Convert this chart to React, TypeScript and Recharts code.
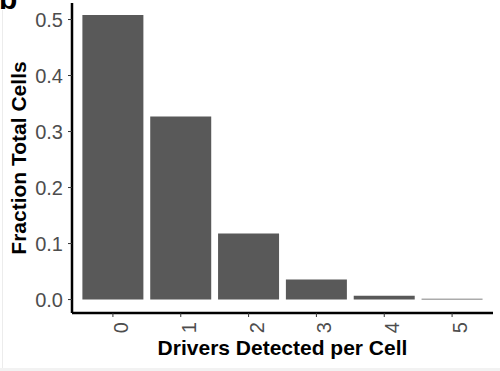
import { Bar, BarChart, Label, XAxis, YAxis } from "recharts";

const drivers = ["0", "1", "2", "3", "4", "5"];
const fractions = [0.508, 0.327, 0.118, 0.036, 0.007, 0.0015];
const yTicks = [0, 0.1, 0.2, 0.3, 0.4, 0.5];

const data = drivers.map((d, i) => ({ drivers: d, fraction: fractions[i] }));

const FONT = '"Liberation Sans", Arial, Helvetica, sans-serif';
const TICK_COLOR = "#4D4D4D";

// rotated label sits to the right of its tick, like ggplot angle=90 / vjust=1
function XTick({ x, y, payload }: { x: number; y: number; payload: { value: string } }) {
  return (
    <g transform={`translate(${x},${y + 3}) rotate(-90)`}>
      <text x={0} y={15} textAnchor="end" fill={TICK_COLOR} fontSize={20} fontFamily={FONT}>
        {payload.value}
      </text>
    </g>
  );
}

// y title, plus the panel tag "b" cut off at the top-left corner
function YTitle({ viewBox }: { viewBox?: { x: number; y: number; width: number; height: number } }) {
  if (!viewBox) return null;
  const cx = 18;
  const cy = viewBox.y + viewBox.height / 2;
  return (
    <g>
      <text x={-1} y={9} fontSize={30} fontWeight="bold" fontFamily={FONT} fill="#000">
        b
      </text>
      <text
        x={cx}
        y={cy}
        transform={`rotate(-90, ${cx}, ${cy})`}
        textAnchor="middle"
        dominantBaseline="central"
        fontSize={21}
        fontWeight="bold"
        fontFamily={FONT}
        fill="#000"
      >
        Fraction Total Cells
      </text>
    </g>
  );
}

function XTitle({ viewBox }: { viewBox?: { x: number; y: number; width: number; height: number } }) {
  if (!viewBox) return null;
  return (
    <text
      x={viewBox.x + viewBox.width / 2}
      y={355}
      textAnchor="middle"
      fontSize={21}
      fontWeight="bold"
      fontFamily={FONT}
      fill="#000"
    >
      Drivers Detected per Cell
    </text>
  );
}

export default function App() {
  return (
    <div style={{ position: "absolute", left: 0, top: 0, width: 500, height: 371, background: "#fff", overflow: "hidden" }}>
      <div style={{ position: "absolute", left: 2, top: 10, bottom: 3, width: 1, background: "#ececec" }} />
      <div style={{ position: "absolute", left: 0, right: 0, bottom: 0, height: 3, background: "#f2f2f2" }} />
      <div style={{ position: "absolute", left: 0, top: 0 }}>
        <BarChart
          width={500}
          height={371}
          data={data}
          margin={{ top: 3, right: 7, left: 10, bottom: 0 }}
          barCategoryGap="5%"
        >
          <XAxis
            dataKey="drivers"
            height={58}
            padding={{ left: 7, right: 7 }}
            axisLine={{ stroke: "#000", strokeWidth: 2.5 }}
            tickLine={{ stroke: "#333", strokeWidth: 1 }}
            tickSize={4}
            tickMargin={2}
            tick={XTick}
            interval={0}
          >
            <Label content={XTitle} />
          </XAxis>
          <YAxis
            width={62}
            type="number"
            domain={[-0.024, 0.5295]}
            ticks={yTicks}
            allowDataOverflow
            axisLine={{ stroke: "#000", strokeWidth: 2.5 }}
            tickLine={{ stroke: "#333", strokeWidth: 1 }}
            tickSize={4}
            tickMargin={5}
            tick={{ fill: TICK_COLOR, fontSize: 20, fontFamily: FONT }}
            tickFormatter={(v: number) => v.toFixed(1)}
          >
            <Label content={YTitle} />
          </YAxis>
          <Bar dataKey="fraction" fill="#595959" isAnimationActive={false} />
        </BarChart>
      </div>
    </div>
  );
}
